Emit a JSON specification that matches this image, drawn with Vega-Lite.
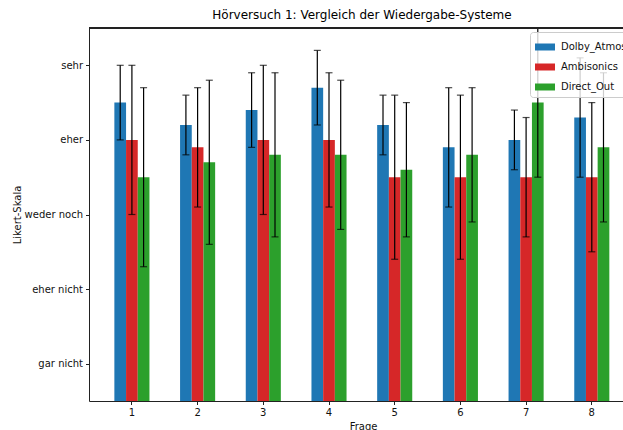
{
  "$schema": "https://vega.github.io/schema/vega-lite/v6.json",
  "width": 534,
  "height": 373,
  "autosize": {"type": "none"},
  "padding": {"left": 89, "top": 28, "right": 0, "bottom": 29},
  "background": "white",
  "title": {
    "text": "Hörversuch 1: Vergleich der Wiedergabe-Systeme",
    "font": "DejaVu Sans",
    "fontSize": 12,
    "fontWeight": "normal",
    "color": "#000",
    "offset": 6,
    "dx": 6
  },
  "config": {
    "font": "DejaVu Sans",
    "view": {"stroke": null},
    "axis": {
      "grid": false,
      "domainColor": "#222",
      "domainWidth": 1,
      "tickColor": "#222",
      "tickWidth": 1,
      "tickSize": 3.5,
      "labelPadding": 3,
      "labelColor": "#111",
      "labelFont": "DejaVu Sans",
      "labelFontSize": 10,
      "titleColor": "#111",
      "titleFont": "DejaVu Sans",
      "titleFontSize": 10,
      "titleFontWeight": "normal"
    }
  },
  "data": {
    "values": [
      {"Frage": 1, "System": "Dolby_Atmos", "Mittel": 4.5, "unten": 4.0, "oben": 5.0},
      {"Frage": 1, "System": "Ambisonics", "Mittel": 4.0, "unten": 3.0, "oben": 5.0},
      {"Frage": 1, "System": "Direct_Out", "Mittel": 3.5, "unten": 2.3, "oben": 4.7},
      {"Frage": 2, "System": "Dolby_Atmos", "Mittel": 4.2, "unten": 3.8, "oben": 4.6},
      {"Frage": 2, "System": "Ambisonics", "Mittel": 3.9, "unten": 3.1, "oben": 4.7},
      {"Frage": 2, "System": "Direct_Out", "Mittel": 3.7, "unten": 2.6, "oben": 4.8},
      {"Frage": 3, "System": "Dolby_Atmos", "Mittel": 4.4, "unten": 3.9, "oben": 4.9},
      {"Frage": 3, "System": "Ambisonics", "Mittel": 4.0, "unten": 3.0, "oben": 5.0},
      {"Frage": 3, "System": "Direct_Out", "Mittel": 3.8, "unten": 2.7, "oben": 4.9},
      {"Frage": 4, "System": "Dolby_Atmos", "Mittel": 4.7, "unten": 4.2, "oben": 5.2},
      {"Frage": 4, "System": "Ambisonics", "Mittel": 4.0, "unten": 3.1, "oben": 4.9},
      {"Frage": 4, "System": "Direct_Out", "Mittel": 3.8, "unten": 2.8, "oben": 4.8},
      {"Frage": 5, "System": "Dolby_Atmos", "Mittel": 4.2, "unten": 3.8, "oben": 4.6},
      {"Frage": 5, "System": "Ambisonics", "Mittel": 3.5, "unten": 2.4, "oben": 4.6},
      {"Frage": 5, "System": "Direct_Out", "Mittel": 3.6, "unten": 2.7, "oben": 4.5},
      {"Frage": 6, "System": "Dolby_Atmos", "Mittel": 3.9, "unten": 3.1, "oben": 4.7},
      {"Frage": 6, "System": "Ambisonics", "Mittel": 3.5, "unten": 2.4, "oben": 4.6},
      {"Frage": 6, "System": "Direct_Out", "Mittel": 3.8, "unten": 2.9, "oben": 4.7},
      {"Frage": 7, "System": "Dolby_Atmos", "Mittel": 4.0, "unten": 3.6, "oben": 4.4},
      {"Frage": 7, "System": "Ambisonics", "Mittel": 3.5, "unten": 2.7, "oben": 4.3},
      {"Frage": 7, "System": "Direct_Out", "Mittel": 4.5, "unten": 3.5, "oben": 5.5},
      {"Frage": 8, "System": "Dolby_Atmos", "Mittel": 4.3, "unten": 3.5, "oben": 5.1},
      {"Frage": 8, "System": "Ambisonics", "Mittel": 3.5, "unten": 2.5, "oben": 4.5},
      {"Frage": 8, "System": "Direct_Out", "Mittel": 3.9, "unten": 2.9, "oben": 4.9}
    ]
  },
  "layer": [
    {
      "encoding": {
        "x": {
          "field": "Frage",
          "type": "ordinal",
          "scale": {"paddingInner": 0.466, "paddingOuter": 0.297, "align": 0.65},
          "axis": {"labelAngle": 0, "title": "Frage", "titlePadding": 4, "titleX": 274}
        },
        "xOffset": {
          "field": "System",
          "type": "nominal",
          "sort": ["Dolby_Atmos", "Ambisonics", "Direct_Out"],
          "scale": {"paddingInner": 0, "paddingOuter": 0}
        }
      },
      "layer": [
        {
          "mark": {"type": "bar", "clip": true},
          "encoding": {
            "y": {
              "field": "Mittel",
              "type": "quantitative",
              "title": "Likert-Skala",
              "scale": {"domain": [0.5, 5.5], "nice": false, "zero": false},
              "axis": {
                "values": [1, 2, 3, 4, 5],
                "labelExpr": "['', 'gar nicht', 'eher nicht', 'weder noch', 'eher', 'sehr'][datum.value]",
                "titlePadding": 2
              }
            },
            "color": {
              "field": "System",
              "type": "nominal",
              "sort": ["Dolby_Atmos", "Ambisonics", "Direct_Out"],
              "scale": {
                "domain": ["Dolby_Atmos", "Ambisonics", "Direct_Out"],
                "range": ["#1f77b4", "#d62728", "#2ca02c"]
              },
              "legend": {
                "title": null,
                "orient": "none",
                "legendX": 441,
                "legendY": 4,
                "symbolType": "M-1,-0.35H1V0.35H-1Z",
                "symbolSize": 400,
                "symbolStrokeWidth": 0,
                "symbolOpacity": 1,
                "labelFont": "DejaVu Sans",
                "labelFontSize": 10,
                "labelColor": "#111",
                "labelOffset": 6,
                "rowPadding": 5,
                "padding": 5,
                "fillColor": "rgba(255,255,255,0.8)",
                "strokeColor": "#cccccc",
                "cornerRadius": 3
              }
            }
          }
        },
        {
          "mark": {"type": "rule", "color": "#000", "strokeWidth": 1.2, "clip": true},
          "encoding": {
            "y": {"field": "unten", "type": "quantitative", "title": "Likert-Skala"},
            "y2": {"field": "oben"}
          }
        },
        {
          "mark": {"type": "tick", "color": "#000", "size": 7, "thickness": 1.2, "clip": true, "orient": "horizontal"},
          "encoding": {
            "y": {"field": "unten", "type": "quantitative", "title": "Likert-Skala"}
          }
        },
        {
          "mark": {"type": "tick", "color": "#000", "size": 7, "thickness": 1.2, "clip": true, "orient": "horizontal"},
          "encoding": {
            "y": {"field": "oben", "type": "quantitative", "title": "Likert-Skala"}
          }
        }
      ]
    },
    {
      "mark": {"type": "rule", "color": "#222", "strokeWidth": 1},
      "encoding": {"y": {"datum": 5.5}}
    }
  ]
}
